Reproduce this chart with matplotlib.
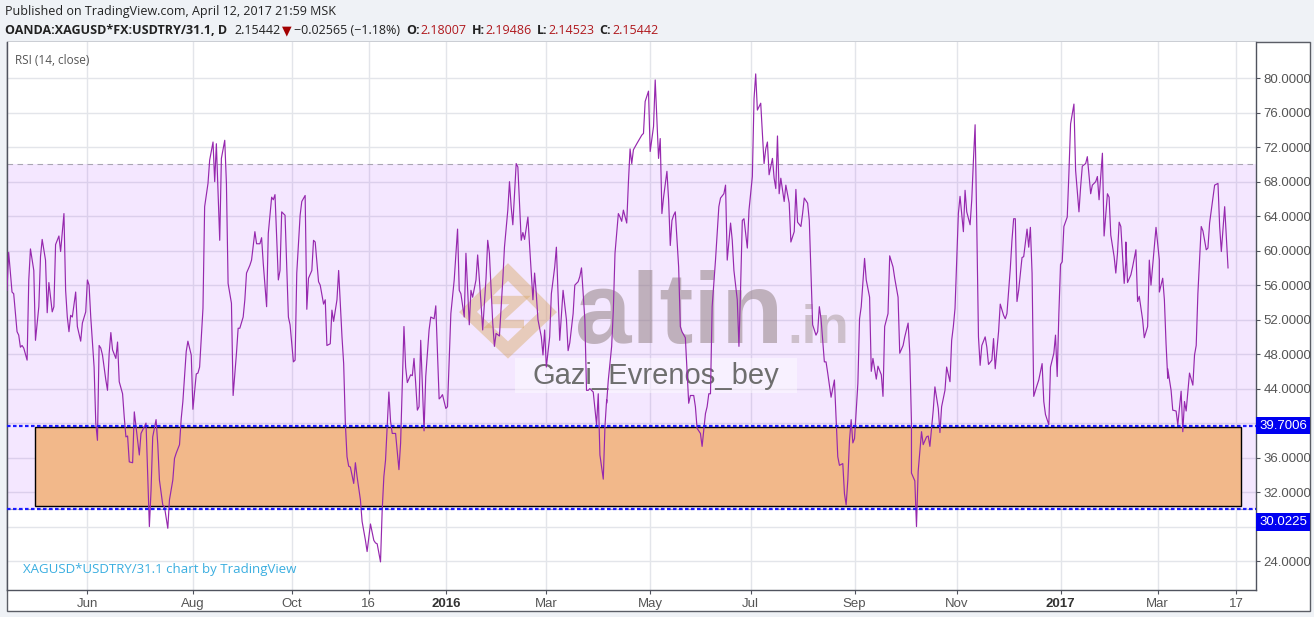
import pandas as pd
import matplotlib
matplotlib.use("Agg")
import matplotlib.pyplot as plt
import matplotlib.dates as mdates
from matplotlib.patches import Rectangle, Polygon
from matplotlib.lines import Line2D
from matplotlib.transforms import IdentityTransform

W, H = 1314, 617

# RSI(14, close) vertices, as day offsets from the first bar
start = pd.Timestamp("2015-04-14")
days_a = [0, 1, 3, 4, 6, 7, 8, 9, 10, 12, 13, 14, 16, 17, 19, 20, 21, 23, 24, 25,
          27, 28, 29, 31, 32, 34, 35, 36, 37, 38, 39, 41, 42, 44, 45, 47, 48, 49, 50, 52,
          53, 54, 55, 56, 57, 59, 60, 61, 62, 63, 65, 66, 67, 69, 70, 71, 72, 73, 75, 76,
          78, 79, 80, 82, 83, 85, 86, 87, 89, 90, 91, 93, 94, 96, 97, 99, 100, 101, 103, 104,
          105, 107, 108, 110, 111, 113, 114, 115, 117, 118, 120, 121, 123, 124, 125, 127, 128, 130, 131, 132,
          134, 135, 137, 138, 139, 141, 142, 143, 145, 146, 148, 149, 151]
rsi_a = [55.4, 59.8, 55.2, 55.0, 50.6, 50.2, 48.8, 49.0, 48.7, 47.3, 56.6, 60.2, 57.7, 49.6, 53.5, 59.3, 61.3, 58.9, 52.8, 56.3,
         52.9, 53.5, 60.7, 61.7, 59.9, 64.3, 55.4, 52.3, 50.6, 52.5, 52.3, 55.2, 51.2, 49.5, 51.6, 52.9, 56.6, 56.0, 52.3, 46.5,
         40.0, 38.0, 49.0, 48.7, 47.9, 45.0, 43.8, 48.1, 50.5, 48.5, 47.5, 49.4, 44.8, 43.4, 40.7, 38.4, 38.5, 35.5, 35.4, 41.3,
         38.0, 36.3, 38.8, 39.6, 40.0, 28.0, 32.2, 38.4, 40.4, 37.6, 33.4, 30.5, 30.3, 27.8, 31.1, 33.4, 35.9, 36.5, 37.5, 40.5,
         42.5, 48.3, 49.5, 47.9, 41.6, 45.7, 45.8, 46.5, 53.3, 65.1, 67.8, 70.5, 72.6, 68.0, 72.4, 61.2, 70.7, 72.8, 67.8, 56.2,
         53.9, 43.2, 48.1, 51.0, 51.0, 52.3, 54.3, 57.4, 58.3, 58.9, 62.2, 60.8, 60.8]

days_b = [152, 153, 155, 156, 158, 159, 160, 162, 163, 164, 166, 168, 169, 171, 172, 173, 175, 176, 178, 179,
          180, 182, 183, 184, 186, 187, 189, 190, 191, 193, 194, 195, 197, 198, 200, 201, 202, 203, 204, 205,
          207, 208, 209, 211, 212, 214, 215, 217, 219, 220, 221, 223, 224, 225, 226, 228, 229, 230, 232, 234,
          235, 237, 238, 239, 241, 242, 243, 244, 245, 246, 247, 249, 250, 252, 253, 255, 256, 258, 259, 260,
          262, 263, 264, 265, 267, 269, 270, 271, 273, 274, 276, 277, 278, 280, 281, 283, 284, 286, 287, 288,
          290, 291, 292, 294, 296]
rsi_b = [61.5, 58.5, 53.5, 62.0, 66.2, 65.9, 66.5, 56.6, 57.7, 64.5, 64.1, 52.3, 51.4, 47.1, 47.3, 57.4, 64.1, 65.7, 66.4, 53.2,
         56.8, 57.7, 61.2, 61.0, 56.4, 56.0, 53.8, 54.3, 49.0, 49.2, 53.1, 51.8, 54.3, 57.7, 50.0, 46.9, 40.0, 36.1, 35.0, 34.9,
         33.0, 35.4, 33.8, 31.1, 28.6, 26.4, 25.1, 28.3, 26.4, 26.1, 26.0, 23.9, 29.9, 33.8, 35.7, 43.6, 40.2, 38.8, 38.8, 34.6,
         37.7, 51.2, 46.5, 44.7, 45.6, 45.5, 47.5, 44.6, 41.5, 41.9, 49.6, 39.1, 45.4, 50.8, 52.3, 52.1, 53.6, 42.8, 43.0, 43.3,
         41.7, 41.9, 47.3, 52.7, 56.6, 62.5, 55.4, 55.0, 52.3, 59.7, 51.4, 55.4, 54.6, 56.6, 59.5, 53.9, 50.8, 56.8, 61.2, 59.7,
         51.6, 48.9, 50.4, 50.1, 56.6]

days_c = [297, 299, 300, 301, 302, 304, 305, 307, 308, 309, 311, 312, 314, 315, 316, 317, 319, 320, 321, 322,
          324, 325, 327, 328, 329, 330, 332, 334, 335, 336, 338, 339, 341, 342, 343, 345, 346, 347, 348, 350,
          351, 352, 353, 354, 355, 356, 357, 358, 358, 359, 361, 362, 363, 365, 366, 367, 368, 370, 371, 372,
          373, 374, 376, 379, 380, 381, 383, 384, 386, 387, 389, 390, 391, 392, 394, 395, 396, 397, 398, 399,
          401, 402, 403, 405, 406, 407, 408, 410, 411, 412, 414, 415, 417, 418, 419, 420, 421, 423, 424, 425,
          426, 428, 429, 430, 432, 433, 434, 436, 437, 438, 439, 440, 442, 443, 445, 446, 447, 448, 450]
rsi_c = [60.4, 64.7, 68.0, 65.1, 63.0, 70.1, 69.7, 61.2, 62.1, 61.3, 63.9, 60.6, 54.3, 57.4, 55.0, 52.0, 50.0, 47.9, 50.8, 46.5,
         50.0, 55.0, 58.1, 60.4, 55.0, 49.6, 55.4, 52.0, 48.4, 49.3, 52.7, 56.0, 56.4, 57.0, 58.0, 52.0, 43.8, 43.8, 44.0, 43.6,
         41.7, 39.8, 43.4, 36.3, 34.9, 33.5, 39.6, 42.7, 42.3, 45.0, 48.9, 53.1, 59.7, 64.3, 63.9, 63.4, 64.7, 63.2, 67.9, 71.8,
         70.1, 71.7, 72.4, 73.4, 73.6, 77.3, 78.5, 71.5, 74.4, 79.8, 70.7, 73.0, 64.3, 66.2, 69.2, 65.9, 60.6, 63.5, 64.1, 64.5,
         58.1, 51.2, 50.6, 49.9, 46.0, 42.3, 43.2, 43.2, 41.9, 39.4, 38.8, 37.3, 41.1, 41.9, 43.4, 43.4, 53.5, 58.9, 62.0, 65.1,
         66.1, 66.6, 67.6, 58.9, 63.2, 61.2, 57.7, 54.3, 48.9, 55.8, 63.5, 63.7, 60.3, 64.7, 68.6, 77.6, 80.5, 76.3, 77.1]

days_d = [452, 453, 454, 455, 457, 458, 459, 460, 461, 462, 464, 465, 467, 468, 470, 471, 472, 474, 475, 476,
          478, 479, 480, 481, 483, 484, 485, 486, 488, 489, 490, 492, 494, 495, 496, 497, 499, 500, 501, 502,
          503, 504, 505, 506, 508, 509, 510, 512, 513, 515, 516, 517, 519, 520, 522, 523, 524, 526, 527, 529,
          530, 532, 533, 535, 536, 538, 539, 540, 540, 542, 543, 544, 546, 547, 549, 550, 551, 553, 554, 556,
          557, 558, 560, 561, 563, 564, 565, 566, 568, 569, 571, 572, 573, 575, 576, 577, 578, 579, 580, 581,
          582, 584, 585, 586, 588, 589, 590, 592, 593, 595, 596, 597]
rsi_d = [70.1, 71.8, 72.6, 68.8, 70.7, 68.4, 67.2, 73.3, 66.6, 68.4, 65.7, 67.6, 65.5, 61.0, 62.2, 67.1, 63.3, 62.8, 64.3, 66.1,
         65.5, 63.5, 57.4, 51.4, 50.2, 50.6, 53.5, 52.1, 47.1, 47.1, 45.8, 43.0, 45.0, 40.4, 36.1, 35.1, 35.3, 31.8, 30.5, 33.4,
         38.0, 40.4, 37.7, 38.2, 44.6, 52.1, 53.5, 59.1, 56.6, 54.6, 46.0, 47.5, 45.1, 46.6, 45.6, 43.1, 51.2, 52.7, 59.4, 58.1,
         56.8, 54.6, 48.1, 49.0, 50.0, 51.6, 48.1, 40.0, 34.2, 33.3, 28.0, 34.4, 39.0, 37.5, 38.4, 38.5, 37.3, 41.5, 44.2, 41.7,
         38.9, 41.9, 43.8, 46.5, 44.8, 49.6, 51.2, 53.3, 64.3, 66.3, 62.2, 67.0, 64.5, 63.0, 65.9, 70.5, 74.6, 62.8, 50.0, 46.7,
         49.0, 50.0, 48.8, 46.8, 47.3, 49.8, 46.3, 50.6, 53.8, 52.5, 52.1, 52.7]

days_e = [599, 600, 601, 602, 603, 604, 606, 607, 609, 610, 611, 612, 613, 615, 616, 618, 619, 620, 622, 623,
          625, 626, 627, 628, 629, 630, 631, 633, 634, 635, 637, 638, 640, 641, 642, 644, 645, 647, 648, 650,
          651, 652, 654, 655, 657, 658, 659, 661, 662, 663, 664, 665, 667, 668, 668, 669, 671, 672, 674, 675,
          676, 678, 679, 681, 682, 683, 685, 686, 688, 688, 690, 691, 692, 693, 693, 695, 696, 698, 699, 701,
          702, 703, 704, 706, 708, 709, 710, 711, 713, 714, 716, 717, 718, 720, 721, 723, 724, 725, 727, 729]
rsi_e = [57.9, 61.2, 63.7, 63.7, 54.1, 55.4, 59.2, 59.3, 62.5, 60.4, 62.7, 57.4, 43.1, 44.4, 45.0, 46.9, 42.5, 41.0, 39.8, 46.5,
         48.1, 50.2, 45.4, 52.7, 58.4, 58.7, 62.8, 63.9, 69.0, 74.7, 77.0, 69.3, 64.5, 67.4, 69.8, 70.1, 70.9, 66.6, 67.6, 68.0,
         68.6, 65.9, 71.3, 61.7, 66.6, 66.2, 61.8, 59.3, 57.4, 59.7, 63.3, 62.8, 56.2, 58.8, 61.0, 56.3, 57.2, 58.1, 60.1, 54.1,
         54.7, 52.0, 49.9, 51.2, 58.9, 56.0, 60.4, 62.7, 58.9, 55.2, 56.8, 54.3, 49.2, 45.2, 46.3, 43.8, 41.5, 41.4, 39.8, 43.7,
         39.0, 42.5, 41.4, 45.8, 44.4, 47.9, 49.0, 55.0, 62.8, 62.3, 60.1, 60.3, 63.2, 66.2, 67.6, 67.8, 62.8, 59.9, 65.1, 58.0]

days = days_a + days_b + days_c + days_d + days_e
rsi = rsi_a + rsi_b + rsi_c + rsi_d + rsi_e
dates = (start + pd.to_timedelta(days, unit="D")).to_pydatetime()

y_ticks = list(range(24, 81, 4))
y_hidden = [28, 40]   # labels covered by the level tags
x_tick_dates = ["2015-06-01", "2015-08-03", "2015-10-01", "2015-11-16", "2016-01-01", "2016-03-01",
                "2016-05-02", "2016-07-01", "2016-09-01", "2016-11-01", "2017-01-02", "2017-03-01", "2017-04-17"]
x_tick_labels = ["Jun", "Aug", "Oct", "16", "2016", "Mar", "May", "Jul", "Sep", "Nov", "2017", "Mar", "17"]

support_hi = 39.7006
support_lo = 30.0225
zone_start, zone_end = "2015-04-30 22:00", "2017-04-19 22:00"
zone_lo, zone_hi = 30.38, 39.54

# ---------------------------------------------------------------
fig = plt.figure(figsize=(W / 100, H / 100), dpi=100)
fig.patch.set_facecolor("#eff2f6")
px = IdentityTransform()

# chart box
fig.patches.append(Rectangle((7, H - 611), 1303, 569, transform=px, fc="white",
                             ec="#5b5e66", lw=1, zorder=-1))
fig.lines.append(Line2D([7, 1310], [H - 42, H - 42], transform=px, color="#c9ccd3", lw=1, zorder=-1))

ax = fig.add_axes([7 / W, (H - 590) / H, (1256 - 7) / W, (590 - 42) / H])
ax.set_facecolor("white")

ax.plot(dates, rsi, color="#9628ae", lw=0.85, zorder=4)

ax.axhspan(30, 70, color="#9915ff", alpha=0.1, lw=0, zorder=1)
ax.axhline(70, color="#a9a6b2", lw=0.8, ls=(0, (5, 4)), zorder=1.2)
ax.axhline(30, color="#a9a6b2", lw=0.8, ls=(0, (5, 4)), zorder=1.2)

z0 = mdates.date2num(pd.Timestamp(zone_start))
z1 = mdates.date2num(pd.Timestamp(zone_end))
ax.add_patch(Rectangle((z0, zone_lo), z1 - z0, zone_hi - zone_lo, fc="#f2b88a",
                       ec="black", lw=1, zorder=3))

for lvl in (support_hi, support_lo):
    ax.axhline(lvl, color="#1a1aff", lw=1.6, ls=(0, (1.6, 1.1)), zorder=5)

ax.set_xlim(start.to_pydatetime(), (start + pd.Timedelta(days=745.7)).to_pydatetime())
ax.set_ylim(20.64, 84.2)

ax.set_yticks(y_ticks)
ax.set_yticklabels(["" if v in y_hidden else "%.4f" % v for v in y_ticks])
ax.yaxis.tick_right()
ax.set_xticks(pd.to_datetime(x_tick_dates).to_pydatetime())
ax.set_xticklabels(x_tick_labels)
ax.tick_params(axis="both", colors="#50535e", length=3, width=0.8, labelsize=9.5, labelcolor="#555555")
ax.tick_params(axis="x", pad=3)
ax.tick_params(axis="y", pad=2.5)
for lab in ax.get_xticklabels() + ax.get_yticklabels():
    lab.set_family("Liberation Sans")
for lab in ax.get_xticklabels():
    if lab.get_text() in ("2016", "2017"):
        lab.set_fontweight("bold")
        lab.set_color("#333333")

ax.grid(True, color="#e3e5ea", lw=1)
ax.set_axisbelow(True)
for side in ("left", "bottom", "right"):
    ax.spines[side].set_color("#50535e")
    ax.spines[side].set_linewidth(1)
ax.spines["top"].set_visible(False)

# price tags for the two horizontal levels
for lvl, txt, dy in ((support_hi, "39.7006", 0), (support_lo, "30.0225", -13)):
    ax.annotate(txt, xy=(1, lvl), xycoords=("axes fraction", "data"), xytext=(3, dy),
                textcoords="offset pixels", ha="left", va="center", color="white", fontsize=9.5,
                family="Liberation Sans", annotation_clip=False,
                bbox=dict(boxstyle="square,pad=0.2", fc="#0000f0", ec="none"))

# watermark (between background and line)
ax.add_patch(Polygon([(468, H - 312), (508, H - 272), (548, H - 312), (508, H - 350)], closed=True,
                     transform=px, fc="none", ec="#d9a968", lw=9, alpha=0.45, zorder=1.5))
ax.add_patch(Polygon([(492, H - 300), (520, H - 300), (494, H - 324), (524, H - 324)], closed=False,
                     transform=px, fc="none", ec="#d9a968", lw=6, alpha=0.45, zorder=1.5))
ax.text(575, H - 343, "altin", transform=px, fontsize=73, fontweight="bold", color="#8c7b7b",
        alpha=0.5, family="Liberation Sans", va="baseline", ha="left", zorder=1.5)
ax.text(787, H - 343, ".in", transform=px, fontsize=38, fontweight="bold", color="#a89898",
        alpha=0.5, family="Liberation Sans", va="baseline", ha="left", zorder=1.5)
ax.add_patch(Rectangle((515, H - 393), 282, 35, transform=px, fc="white", ec="none",
                       alpha=0.45, zorder=1.6))
ax.text(656, H - 376, "Gazi_Evrenos_bey", transform=px, fontsize=21, color="#6e6e6e",
        family="Liberation Sans", va="center", ha="center", zorder=1.7)

ax.text(15, H - 60, "RSI (14, close)", transform=px, fontsize=8.5, color="#555555",
        family="Open Sans", va="center", ha="left", zorder=6)
ax.text(23, H - 569, "XAGUSD*USDTRY/31.1 chart by TradingView", transform=px, fontsize=9.5,
        color="#3aaee0", family="Open Sans", va="center", ha="left", zorder=6)

# header
fig.text(5, H - 11, "Published on TradingView.com, April 12, 2017 21:59 MSK", transform=px,
         fontsize=9, color="#222222", family=["Open Sans", "DejaVu Sans"], va="center", ha="left")

red = "#b0191e"
dark = "#222222"
header = [("OANDA:XAGUSD*FX:USDTRY/31.1, D", dark, "bold", 7),
          ("2.15442", dark, "normal", 2),
          ("\u25bc", "#a30000", "normal", 2),
          ("\u22120.02565 (\u22121.18%)", dark, "normal", 6),
          ("O:", dark, "bold", 1), ("2.18007", red, "normal", 5),
          ("H:", dark, "bold", 1), ("2.19486", red, "normal", 5),
          ("L:", dark, "bold", 1), ("2.14523", red, "normal", 5),
          ("C:", dark, "bold", 1), ("2.15442", red, "normal", 0)]
renderer = fig.canvas.get_renderer()
x = 5
for s, col, wt, gap in header:
    t = fig.text(x, H - 31, s, transform=px, fontsize=9, color=col, fontweight=wt,
                 family=["Open Sans", "DejaVu Sans"], va="center", ha="left")
    x = t.get_window_extent(renderer=renderer).x1 + gap

fig.savefig("out.png", dpi=100, facecolor=fig.get_facecolor())
